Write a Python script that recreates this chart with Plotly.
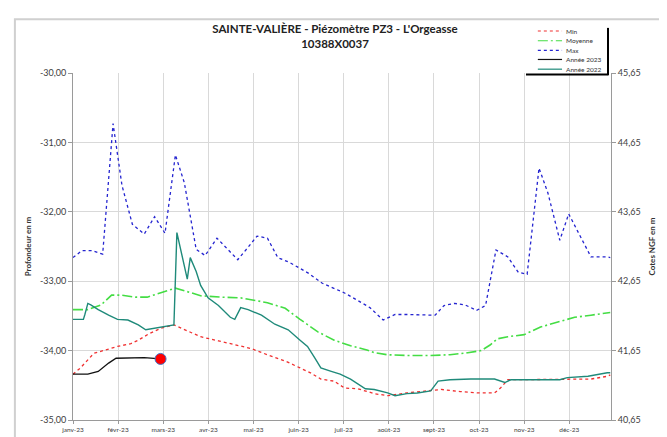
"""Piézomètre PZ3 - courbes min / moyenne / max et années 2022-2023."""

import plotly.graph_objects as go

# jours depuis le 1er janvier, profondeur en m
jours_max = [0, 6, 13, 20, 27, 33, 40, 48, 55, 62, 69, 75, 83, 89, 97, 104, 111, 118, 124, 131,
             138, 146, 153, 159, 168, 176, 183, 192, 200, 209, 217, 225, 244, 250, 257, 264, 272,
             278, 285, 293, 300, 306, 314, 320, 328, 334, 342, 349, 360, 362]
prof_max = [-32.66, -32.56, -32.56, -32.61, -30.73, -31.62, -32.18, -32.32, -32.07, -32.31,
            -31.18, -31.58, -32.54, -32.63, -32.38, -32.54, -32.69, -32.51, -32.35, -32.38,
            -32.66, -32.73, -32.82, -32.89, -33.03, -33.10, -33.17, -33.28, -33.38, -33.56,
            -33.48, -33.48, -33.49, -33.35, -33.32, -33.34, -33.42, -33.35, -32.55, -32.65,
            -32.87, -32.90, -31.37, -31.73, -32.41, -32.03, -32.35, -32.65, -32.65, -32.66]

jours_moy = [0, 10, 19, 26, 32, 42, 50, 59, 69, 77, 86, 100, 113, 131, 143, 153, 165, 176, 187,
             198, 203, 212, 225, 241, 254, 266, 275, 281, 286, 293, 304, 315, 326, 338, 349, 360, 362]
prof_moy = [-33.41, -33.41, -33.34, -33.20, -33.20, -33.23, -33.23, -33.17, -33.10, -33.15,
            -33.21, -33.23, -33.24, -33.31, -33.39, -33.55, -33.73, -33.85, -33.93, -33.99,
            -34.03, -34.06, -34.07, -34.07, -34.06, -34.03, -34.00, -33.92, -33.83, -33.80,
            -33.77, -33.66, -33.59, -33.52, -33.49, -33.46, -33.45]

jours_min = [0, 5, 14, 22, 30, 39, 44, 51, 59, 68, 75, 86, 98, 109, 120, 131, 143, 153, 160, 167,
             176, 183, 192, 203, 212, 225, 239, 248, 261, 273, 284, 288, 293, 304, 328, 338, 349,
             360, 362]
prof_min = [-34.34, -34.25, -34.04, -33.99, -33.94, -33.90, -33.85, -33.76, -33.68, -33.63,
            -33.70, -33.80, -33.86, -33.92, -33.97, -34.06, -34.15, -34.25, -34.32, -34.41,
            -34.44, -34.54, -34.55, -34.62, -34.65, -34.61, -34.58, -34.56, -34.59, -34.61,
            -34.61, -34.54, -34.42, -34.42, -34.42, -34.42, -34.41, -34.37, -34.35]

jours_2022 = [0, 7, 8, 10, 12, 17, 24, 30, 37, 44, 49, 55, 62, 68, 70, 74, 77, 79, 83, 86, 91,
              98, 106, 109, 113, 118, 127, 136, 145, 153, 158, 163, 167, 174, 180, 187, 197, 203,
              212, 217, 225, 232, 241, 246, 254, 268, 284, 291, 295, 315, 328, 333, 347, 360, 362]
prof_2022 = [-33.55, -33.55, -33.48, -33.32, -33.34, -33.41, -33.49, -33.55, -33.56, -33.63,
             -33.70, -33.68, -33.65, -33.63, -32.30, -32.68, -32.97, -32.66, -32.86, -33.06,
             -33.24, -33.35, -33.52, -33.55, -33.38, -33.41, -33.49, -33.62, -33.70, -33.85,
             -33.94, -34.11, -34.25, -34.30, -34.34, -34.41, -34.55, -34.56, -34.61, -34.65,
             -34.62, -34.61, -34.58, -34.44, -34.42, -34.41, -34.41, -34.46, -34.42, -34.42,
             -34.42, -34.39, -34.37, -34.32, -34.32]

jours_2023 = [0, 10, 17, 24, 29, 37, 48, 59]
prof_2023 = [-34.34, -34.34, -34.30, -34.18, -34.11, -34.11, -34.10, -34.12]

mois = ["janv-23", "févr-23", "mars-23", "avr-23", "mai-23", "juin-23",
        "juil-23", "août-23", "sept-23", "oct-23", "nov-23", "déc-23"]
ticks_prof = [-35, -34, -33, -32, -31, -30]
ticks_ngf = [40.65, 41.65, 42.65, 43.65, 44.65, 45.65]


def fr(v):
    return f"{v:.2f}".replace(".", ",")


FONT = "Lato, Open Sans, sans-serif"
GRID = "#D9D9D9"
AXIS = "#9A9A9A"

series = [
    ("Min", jours_min, prof_min, dict(color="#F03030", width=1.3, dash="dot")),
    ("Moyenne", jours_moy, prof_moy, dict(color="#44DD44", width=1.6, dash="10px,3px,2px,3px")),
    ("Max", jours_max, prof_max, dict(color="#2424D0", width=1.3, dash="dot")),
    ("Année 2023", jours_2023, prof_2023, dict(color="#111111", width=1.3)),
    ("Année 2022", jours_2022, prof_2022, dict(color="#1F8A7A", width=1.4)),
]

fig = go.Figure()
for name, x, y, line in series:
    fig.add_trace(go.Scatter(x=x, y=y, name=name, mode="lines", line=line,
                             showlegend=False, hoverinfo="skip"))

# dernier relevé 2023
fig.add_trace(go.Scatter(
    x=[jours_2023[-1]], y=[prof_2023[-1]], mode="markers", showlegend=False,
    marker=dict(size=11, color="#FF0000", line=dict(color="#4472C4", width=1)),
))
# axe de droite (cotes NGF)
fig.add_trace(go.Scatter(x=[], y=[], yaxis="y2", showlegend=False))

# légende dessinée à la main (petite, comme dans Excel)
shapes = []
annotations = []
leg_y = [1.121, 1.093, 1.065, 1.039, 1.011]
for (name, _, _, line), ly in zip(series, leg_y):
    shapes.append(dict(type="line", xref="paper", yref="paper", x0=0.864, x1=0.909,
                       y0=ly, y1=ly, line=dict(color=line["color"], width=1.2,
                                               dash=line.get("dash", "solid"))))
    annotations.append(dict(text=name, xref="paper", yref="paper", x=0.912, y=ly,
                            xanchor="left", yanchor="middle", showarrow=False,
                            font=dict(size=6.5, color="#333333")))
shapes += [
    dict(type="line", xref="paper", yref="paper", x0=0.9944, x1=0.9944, y0=1.13, y1=0.994,
         line=dict(color="black", width=2)),
    dict(type="line", xref="paper", yref="paper", x0=0.842, x1=0.9954, y0=0.996, y1=0.996,
         line=dict(color="black", width=2)),
    # cadre gris de la zone de graphique
    dict(type="rect", xref="paper", yref="paper", x0=-0.108, x1=1.3, y0=-0.3, y1=1.155,
         line=dict(color="#D0D0D0", width=2), layer="below"),
]

fig.update_layout(
    width=667,
    height=437,
    margin=dict(l=65, r=64, t=65, b=17),
    paper_bgcolor="white",
    plot_bgcolor="white",
    font=dict(family=FONT, color="#404040"),
    showlegend=False,
    title=dict(
        text="<b>SAINTE-VALIÈRE - Piézomètre PZ3 - L'Orgeasse<br>10388X0037</b>",
        x=0.487, xref="paper", xanchor="center",
        y=0.943, yref="container", yanchor="top",
        font=dict(size=11.5, color="#222222", family=FONT),
    ),
    xaxis=dict(
        range=[0, 362.5],
        tickvals=[i * 30.4 for i in range(len(mois))],
        ticktext=mois,
        tickfont=dict(size=6.5, color="#404040"),
        showgrid=True, gridcolor=GRID, gridwidth=1,
        showline=True, linecolor=AXIS, linewidth=1,
        ticks="outside", ticklen=3, tickcolor=AXIS,
        zeroline=False,
    ),
    yaxis=dict(
        range=[-35, -30],
        tickvals=ticks_prof,
        ticktext=[fr(v) for v in ticks_prof],
        tickfont=dict(size=9, color="#404040"),
        showgrid=True, gridcolor=GRID, gridwidth=1,
        showline=True, linecolor=AXIS, linewidth=1,
        ticks="outside", ticklen=4, tickcolor=AXIS,
        zeroline=False,
        title=dict(text="<b>Profondeur en m</b>", font=dict(size=8, color="#333333"),
                   standoff=7),
    ),
    yaxis2=dict(
        overlaying="y",
        side="right",
        range=[40.65, 45.65],
        tickvals=ticks_ngf,
        ticktext=[fr(v) for v in ticks_ngf],
        tickfont=dict(size=9, color="#404040"),
        showgrid=False,
        showline=True, linecolor=AXIS, linewidth=1,
        ticks="outside", ticklen=4, tickcolor=AXIS,
        zeroline=False,
        title=dict(text="<b>Cotes NGF en m</b>", font=dict(size=8, color="#333333"),
                   standoff=9),
    ),
    shapes=shapes,
    annotations=annotations,
)

fig.write_html("out.html")
